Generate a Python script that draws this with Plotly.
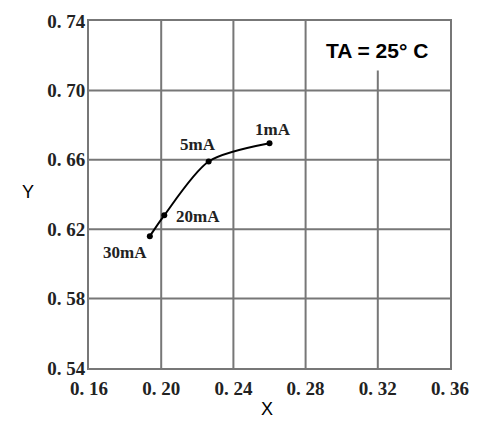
import plotly.graph_objects as go

# Data
labels = ["30mA", "20mA", "5mA", "1mA"]
x_vals = [0.1937, 0.2017, 0.2263, 0.2600]
y_vals = [0.6160, 0.6280, 0.6590, 0.6695]

x_ticks = [0.16, 0.20, 0.24, 0.28, 0.32, 0.36]
x_ticktext = ["0. 16", "0. 20", "0. 24", "0. 28", "0. 32", "0. 36"]
y_ticks = [0.54, 0.58, 0.62, 0.66, 0.70, 0.74]
y_ticktext = ["0. 54", "0. 58", "0. 62", "0. 66", "0. 70", "0. 74"]

X_RANGE = [0.16, 0.36]
Y_RANGE = [0.54, 0.74]

GRID = "#777777"
SERIF = "Liberation Serif"

fig = go.Figure()
fig.add_trace(go.Scatter(
    x=x_vals, y=y_vals, mode="lines+markers",
    line=dict(color="black", width=2, shape="spline", smoothing=0.8),
    marker=dict(color="black", size=6),
    hoverinfo="skip", showlegend=False,
))

shapes = []
for xv in x_ticks[1:-1]:
    y0 = Y_RANGE[0]
    y1 = 0.7115 if abs(xv - 0.32) < 1e-9 else Y_RANGE[1]
    shapes.append(dict(type="line", xref="x", yref="y", x0=xv, x1=xv, y0=y0, y1=y1,
                       line=dict(color=GRID, width=2), layer="below"))
for yv in y_ticks[1:-1]:
    shapes.append(dict(type="line", xref="x", yref="y", x0=X_RANGE[0], x1=X_RANGE[1], y0=yv, y1=yv,
                       line=dict(color=GRID, width=2), layer="below"))

# label placements: (xanchor, yanchor, xshift, yshift)
placements = {
    "30mA": ("right", "middle", -1, -16),
    "20mA": ("left", "middle", 10, -1),
    "5mA": ("center", "middle", -11, 17),
    "1mA": ("center", "middle", 3, 14),
}
annotations = []
for lab, xv, yv in zip(labels, x_vals, y_vals):
    xa, ya, xs, ys = placements[lab]
    annotations.append(dict(x=xv, y=yv, xref="x", yref="y", text="<b>" + lab + "</b>", showarrow=False,
                            xanchor=xa, yanchor=ya, xshift=xs, yshift=ys,
                            font=dict(family=SERIF, size=17, color="#222")))

annotations.append(dict(x=0.32, y=0.73, xref="x", yref="y", text="<b>TA = 25° C</b>",
                        showarrow=False, xanchor="center", yanchor="middle", xshift=-1, yshift=-12,
                        font=dict(family="Liberation Sans", size=21, color="black")))
annotations.append(dict(x=-0.169, y=0.506, xref="paper", yref="paper", text="Y", showarrow=False,
                        xanchor="center", yanchor="middle",
                        font=dict(family="Liberation Sans", size=18, color="black")))
annotations.append(dict(x=0.493, y=-0.118, xref="paper", yref="paper", text="X", showarrow=False,
                        xanchor="center", yanchor="middle",
                        font=dict(family="Liberation Sans", size=18, color="black")))

fig.update_layout(
    width=465, height=413,
    margin=dict(l=81, r=23, t=13, b=53),
    paper_bgcolor="white", plot_bgcolor="white",
    shapes=shapes, annotations=annotations,
    xaxis=dict(range=X_RANGE, tickvals=x_ticks, ticktext=["<b>" + t + "</b>" for t in x_ticktext],
               showgrid=False, zeroline=False, showline=True, linecolor=GRID, linewidth=2, mirror=True,
               ticks="", automargin=False, ticklabelstandoff=2,
               tickfont=dict(family=SERIF, size=19, color="#222")),
    yaxis=dict(range=Y_RANGE, tickvals=y_ticks, ticktext=["<b>" + t + "</b>" for t in y_ticktext],
               showgrid=False, zeroline=False, showline=True, linecolor=GRID, linewidth=2, mirror=True,
               ticks="", automargin=False, ticklabelstandoff=-2,
               tickfont=dict(family=SERIF, size=19, color="#222")),
)

fig.write_html("out.html")
